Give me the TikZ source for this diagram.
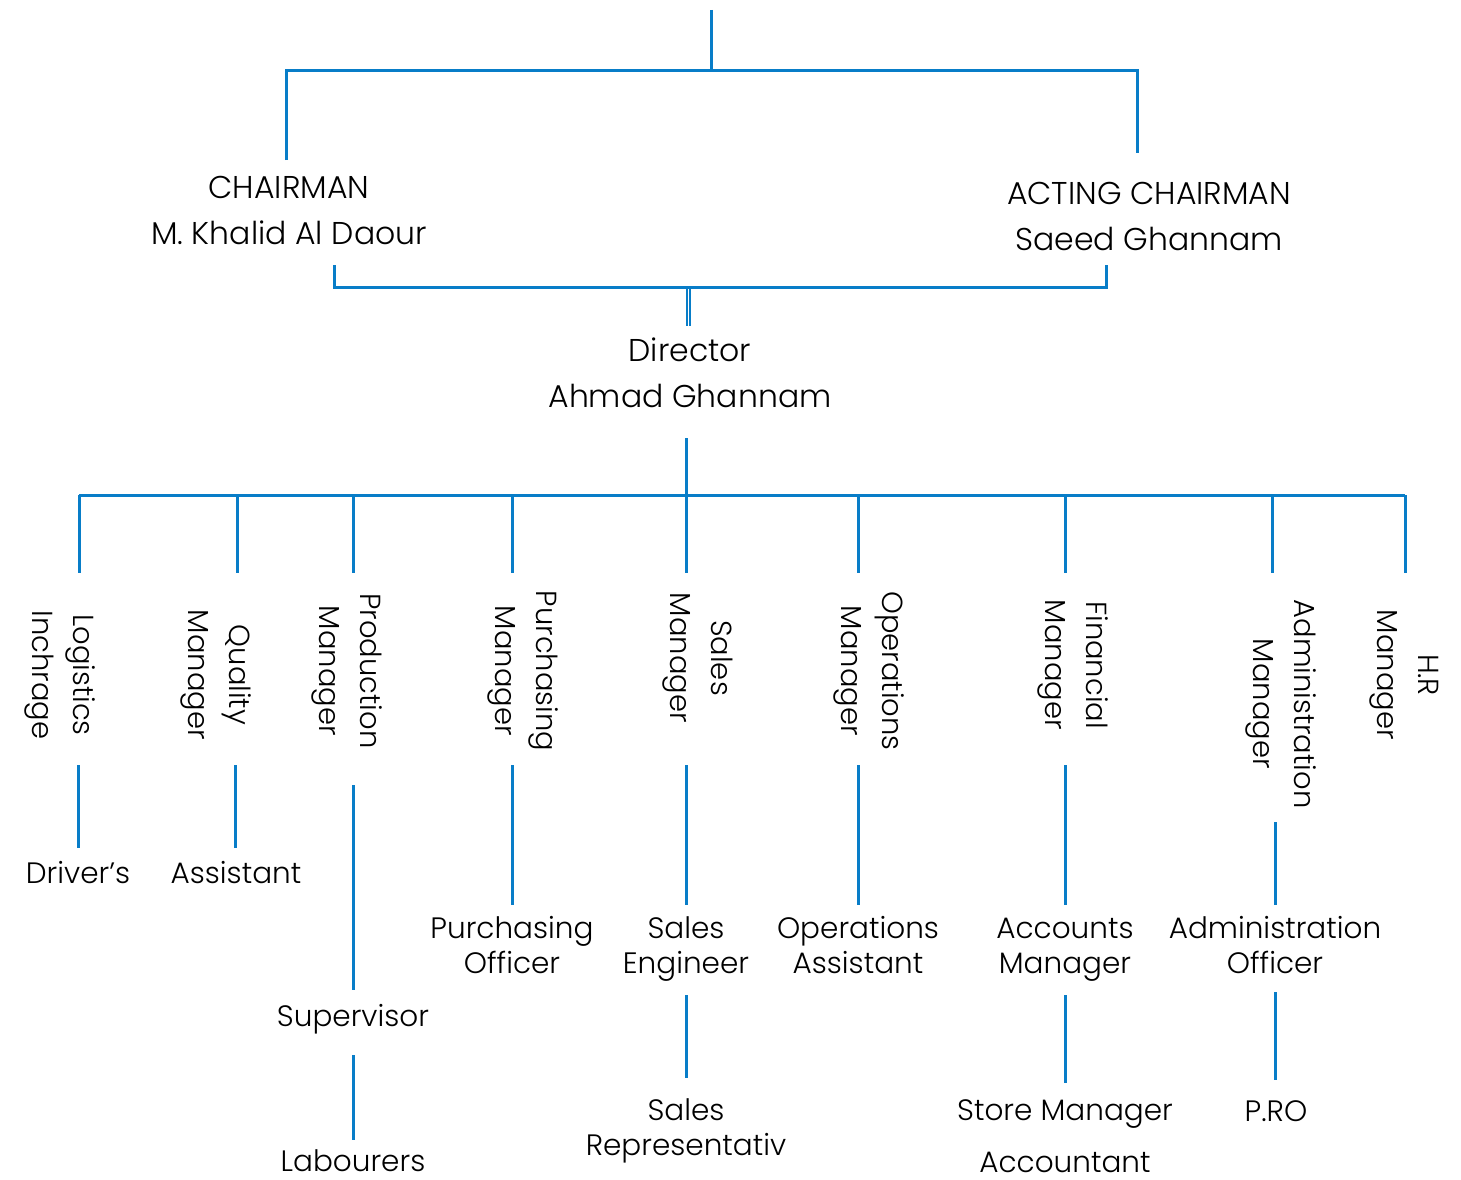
\documentclass[tikz,border=0pt]{standalone}
\usepackage{fontspec}
\setmainfont{Poppins}[UprightFont=* Light]
\definecolor{orgblue}{RGB}{8,125,200}
\tikzset{
  link/.style={draw=orgblue, line width=3pt},
  thinlink/.style={draw=orgblue, line width=2pt},
  lbl/.style={inner sep=0pt, align=center, font=\fontsize{29.5}{35}\selectfont},
  vlbl/.style={lbl, rotate=-90, font=\fontsize{29}{41}\selectfont},
  wide/.style={font=\fontsize{31.5}{46}\selectfont}
}
\begin{document}
\begin{tikzpicture}[x=1pt,y=-1pt]
\useasboundingbox (0,0) rectangle (1461,1180);
% top
\coordinate (top) at (711,10);
\coordinate (topj) at (711,71);
\coordinate (tl) at (286,71);
\coordinate (tr) at (1137,71);
\coordinate (tlb) at (286,160);
\coordinate (trb) at (1137,153);
\draw[link] (top) -- (topj);
\draw[link] (tlb) -- (tl) -- (tr) -- (trb);
\node[lbl,wide] (chair) at (289,211) {CHAIRMAN\\M. Khalid Al Daour};
\node[lbl,wide] (acting) at (1149,216) {ACTING CHAIRMAN\\Saeed Ghannam};
% bracket
\coordinate (bl) at (334,265);
\coordinate (br) at (1106,265);
\coordinate (blc) at (334,287);
\coordinate (brc) at (1106,287);
\draw[link] (bl) -- (blc) -- (brc) -- (br);
\node[lbl,wide] (dir) at (690,373) {Director\\Ahmad Ghannam};
\coordinate (dl1) at (686.6,287); \coordinate (dl2) at (686.6,326);
\coordinate (dr1) at (690.2,287); \coordinate (dr2) at (690.2,326);
\draw[thinlink] (dl1) -- (dl2);
\draw[thinlink] (dr1) -- (dr2);
% bus
\coordinate (dj) at (686,438);
\coordinate (bus) at (686,495);
\coordinate (busl) at (79,495);
\coordinate (busr) at (1405,495);
\draw[link] (dj) -- (bus);
\draw[link] (busl) -- (busr);
\foreach \x/\n in {79/a,237/b,353/c,512/d,686/e,858/f,1065/g,1272/h,1405/i}{
  \coordinate (d\n) at (\x,495);
  \coordinate (e\n) at (\x,573);
  \draw[link] (d\n) -- (e\n);
}
% managers
\node[vlbl] (logi) at (60,675) {Logistics\\Inchrage};
\node[vlbl] (qual) at (216,675) {Quality\\Manager};
\node[vlbl] (prod) at (347,671) {Production\\Manager};
\node[vlbl] (purc) at (523,671) {Purchasing\\Manager};
\node[vlbl] (sale) at (698,658) {Sales\\Manager};
\node[vlbl] (oper) at (869,671) {Operations\\Manager};
\node[vlbl] (fina) at (1073,665) {Financial\\Manager};
\node[vlbl] (admn) at (1281,704) {Administration\\Manager};
\node[vlbl] (hrm) at (1404,675) {H.R\\Manager};
% second level
\coordinate (l1a) at (78,765); \coordinate (l1b) at (78,848);
\draw[link] (l1a) -- (l1b);
\node[lbl] (driv) at (78,873) {Driver’s};
\coordinate (l2a) at (235,765); \coordinate (l2b) at (235,848);
\draw[link] (l2a) -- (l2b);
\node[lbl] (assi) at (236,873) {Assistant};
\coordinate (l3a) at (353,785); \coordinate (l3b) at (353,990);
\draw[link] (l3a) -- (l3b);
\node[lbl] (supv) at (353,1019) {Supervisor};
\coordinate (l3c) at (353,1055); \coordinate (l3d) at (353,1140);
\draw[link] (l3c) -- (l3d);
\node[lbl] (labr) at (353,1161) {Labourers};
\coordinate (l4a) at (512,765); \coordinate (l4b) at (512,905);
\draw[link] (l4a) -- (l4b);
\node[lbl] (pofc) at (512,945) {Purchasing\\Officer};
\coordinate (l5a) at (686,765); \coordinate (l5b) at (686,905);
\draw[link] (l5a) -- (l5b);
\node[lbl] (seng) at (686,949) {Sales\\Engineer};
\coordinate (l5c) at (686,995); \coordinate (l5d) at (686,1078);
\draw[link] (l5c) -- (l5d);
\node[lbl] (srep) at (686,1131) {Sales\\Representativ};
\coordinate (l6a) at (858,765); \coordinate (l6b) at (858,905);
\draw[link] (l6a) -- (l6b);
\node[lbl] (oass) at (858,945) {Operations\\Assistant};
\coordinate (l7a) at (1065,765); \coordinate (l7b) at (1065,905);
\draw[link] (l7a) -- (l7b);
\node[lbl] (accm) at (1065,950) {Accounts\\Manager};
\coordinate (l7c) at (1065,995); \coordinate (l7d) at (1065,1083);
\draw[link] (l7c) -- (l7d);
\node[lbl] (stor) at (1065,1114) {Store Manager};
\node[lbl] (acct) at (1065,1162) {Accountant};
\coordinate (l8a) at (1275,822); \coordinate (l8b) at (1275,905);
\draw[link] (l8a) -- (l8b);
\node[lbl] (aofc) at (1275,945) {Administration\\Officer};
\coordinate (l8c) at (1275,992); \coordinate (l8d) at (1275,1080);
\draw[link] (l8c) -- (l8d);
\node[lbl] (pro) at (1276,1111) {P.RO};
\end{tikzpicture}
\end{document}
